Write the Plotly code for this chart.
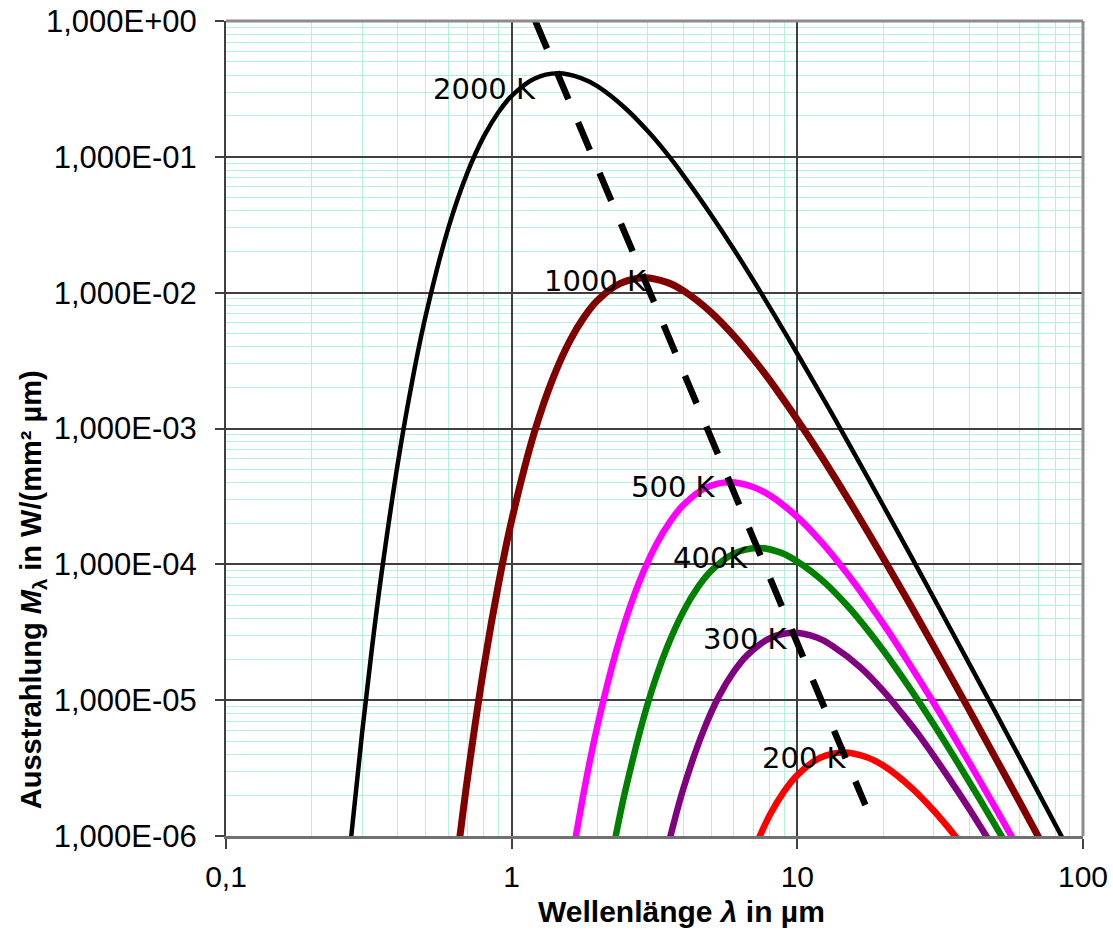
import math
import plotly.graph_objects as go

# Wellenlänge in µm, Ausstrahlung in W/(mm² µm)
lam_2000 = [0.25, 0.275, 0.30, 0.325, 0.35, 0.40, 0.45, 0.50, 0.60, 0.70, 0.80, 0.90, 1.0, 1.2, 1.45,
            1.75, 2.0, 2.5, 3.0, 3.5, 4.0, 5.0, 6.0, 7.5, 10, 12.5, 15, 20, 25, 30, 40, 50, 65, 85]
m_2000 = [1.22e-7, 1.04e-6, 5.93e-6, 2.51e-5, 8.43e-5, 5.65e-4, 2.31e-3, 6.75e-3, 0.0299, 0.0766, 0.142,
          0.214, 0.281, 0.376, 0.412, 0.380, 0.330, 0.228, 0.154, 0.105, 0.0725, 0.0372, 0.0208, 9.79e-3,
          3.55e-3, 1.58e-3, 8.01e-4, 2.70e-4, 1.15e-4, 5.68e-5, 1.85e-5, 7.74e-6, 2.76e-6, 9.55e-7]

lam_1000 = [0.65, 0.70, 0.80, 0.90, 1.0, 1.2, 1.4, 1.6, 1.8, 2.0, 2.4, 2.9, 3.5, 4.0, 5.0, 6.0, 7.0, 8.0,
            10, 12, 15, 20, 25, 30, 40, 50, 60, 80]
m_1000 = [7.86e-7, 2.64e-6, 1.77e-5, 7.23e-5, 2.11e-4, 9.33e-4, 2.39e-3, 4.44e-3, 6.69e-3, 8.79e-3, 0.0117,
          0.0129, 0.0119, 0.0103, 7.14e-3, 4.81e-3, 3.27e-3, 2.27e-3, 1.16e-3, 6.49e-4, 3.06e-4, 1.11e-4,
          4.93e-5, 2.50e-5, 8.44e-6, 3.59e-6, 1.78e-6, 5.80e-7]

lam_500 = [1.6, 1.8, 2.0, 2.4, 2.8, 3.2, 3.6, 4.0, 4.8, 5.8, 7.0, 8.0, 10, 12, 14, 16, 20, 24, 30, 40, 50, 60]
m_500 = [5.52e-7, 2.26e-6, 6.60e-6, 2.92e-5, 7.48e-5, 1.39e-4, 2.09e-4, 2.75e-4, 3.67e-4, 4.02e-4, 3.71e-4,
         3.22e-4, 2.23e-4, 1.50e-4, 1.02e-4, 7.08e-5, 3.64e-5, 2.03e-5, 9.57e-6, 3.47e-6, 1.54e-6, 7.82e-7]

lam_400 = [2.25, 2.5, 3.0, 3.5, 4.0, 4.5, 5.0, 6.0, 7.25, 8.75, 10, 12.5, 15, 17.5, 20, 25, 30, 37.5, 50, 62.5]
m_400 = [7.40e-7, 2.16e-6, 9.56e-6, 2.45e-5, 4.54e-5, 6.85e-5, 9.00e-5, 1.20e-4, 1.32e-4, 1.22e-4, 1.05e-4,
         7.31e-5, 4.93e-5, 3.35e-5, 2.32e-5, 1.19e-5, 6.65e-6, 3.13e-6, 1.14e-6, 5.04e-7]

lam_300 = [3.33, 3.67, 4.0, 4.67, 5.33, 6.0, 6.67, 8.0, 9.67, 11.7, 13.3, 16.7, 20, 23.3, 26.7, 33.3, 40, 50]
m_300 = [5.13e-7, 1.18e-6, 2.27e-6, 5.82e-6, 1.08e-5, 1.63e-5, 2.14e-5, 2.85e-5, 3.13e-5, 2.89e-5, 2.50e-5,
         1.73e-5, 1.17e-5, 7.94e-6, 5.50e-6, 2.83e-6, 1.58e-6, 7.44e-7]

lam_200 = [7.0, 8.0, 9.0, 10, 12, 14.5, 17.5, 20, 25, 30, 35, 40]
m_200 = [7.66e-7, 1.42e-6, 2.14e-6, 2.81e-6, 3.76e-6, 4.12e-6, 3.80e-6, 3.30e-6, 2.28e-6, 1.54e-6, 1.05e-6,
         7.25e-7]

# Wiensches Verschiebungsgesetz (Maxima)
lam_wien = [1.21, 1.45, 2.90, 5.80, 7.25, 9.66, 14.5, 17.3]
m_wien = [1.0, 0.412, 0.0129, 4.02e-4, 1.32e-4, 3.13e-5, 4.12e-6, 1.69e-6]

curve_names = ["2000 K", "1000 K", "500 K", "400K", "300 K", "200 K"]
label_lam = [0.806, 1.966, 3.68, 4.98, 6.60, 10.6]
label_m = [0.316, 0.0122, 3.68e-4, 1.12e-4, 2.81e-5, 3.78e-6]

x_ticks = [0.1, 1, 10, 100]
x_ticktext = ["0,1", "1", "10", "100"]
y_ticks = [1e-6, 1e-5, 1e-4, 1e-3, 1e-2, 1e-1, 1]
y_ticktext = ["1,000E-06", "1,000E-05", "1,000E-04", "1,000E-03", "1,000E-02", "1,000E-01", "1,000E+00"]

series = [
    (lam_2000, m_2000, "black", 4.5),
    (lam_1000, m_1000, "#800000", 7),
    (lam_500, m_500, "#FF00FF", 6.5),
    (lam_400, m_400, "#008000", 6.5),
    (lam_300, m_300, "#800080", 6.5),
    (lam_200, m_200, "#FF0000", 6.5),
]

fig = go.Figure()
for (lam, m, col, w), name in zip(series, curve_names):
    fig.add_trace(go.Scatter(x=lam, y=m, mode="lines", name=name,
                             line=dict(color=col, width=w, shape="spline")))

fig.add_trace(go.Scatter(x=lam_wien, y=m_wien, mode="lines", name="Wien",
                         line=dict(color="black", width=6.5, dash="30px,25px")))

# Beschriftung der Kurven
for name, lx, ly in zip(curve_names, label_lam, label_m):
    fig.add_annotation(x=math.log10(lx), y=math.log10(ly), text=name, showarrow=False,
                       font=dict(family="DejaVu Sans", size=29, color="black"))

minor_x = [k * 10 ** e for e in (-1, 0, 1) for k in range(2, 10)]
minor_y = [k * 10 ** e for e in range(-6, 0) for k in range(2, 10)]

fig.update_xaxes(type="log", range=[-1, 2], tickvals=x_ticks, ticktext=x_ticktext,
                 ticks="outside", ticklen=10, tickwidth=1.5, tickcolor="#404040",
                 showline=True, linecolor="#707070", linewidth=3,
                 showgrid=True, gridcolor="#404040", gridwidth=1.5,
                 minor=dict(tickvals=minor_x, showgrid=True, gridcolor="#B4F0DC", gridwidth=1, ticks=""),
                 tickfont=dict(family="Liberation Sans, Arial", size=30, color="black"),
                 ticklabelstandoff=2, zeroline=False, automargin=False)
fig.update_yaxes(type="log", range=[-6, 0], tickvals=y_ticks, ticktext=y_ticktext,
                 ticks="outside", ticklen=9, tickwidth=1.5, tickcolor="#404040",
                 showline=True, linecolor="#404040", linewidth=2,
                 showgrid=True, gridcolor="#404040", gridwidth=1.5,
                 minor=dict(tickvals=minor_y, showgrid=True, gridcolor="#B4F0DC", gridwidth=1, ticks=""),
                 tickfont=dict(family="Liberation Sans, Arial", size=31, color="black"),
                 ticklabelstandoff=12, zeroline=False, automargin=False)

# Rahmen oben und rechts
fig.add_shape(type="line", xref="paper", yref="paper", x0=0, x1=1, y0=1, y1=1,
              line=dict(color="#8C8C8C", width=3))
fig.add_shape(type="line", xref="paper", yref="paper", x0=1, x1=1, y0=0, y1=1,
              line=dict(color="#8C8C8C", width=3))

fig.add_annotation(xref="paper", yref="paper", x=0.531, y=-0.093, xanchor="center", yanchor="middle",
                   showarrow=False, text="<b>Wellenlänge <i>λ</i> in µm</b>",
                   font=dict(family="Liberation Sans, Arial", size=30, color="black"))
fig.add_annotation(xref="paper", yref="paper", x=-0.225, y=0.03, xanchor="center", yanchor="bottom",
                   showarrow=False, textangle=-90,
                   text="<b>Ausstrahlung <i>M</i><sub>λ</sub> in W/(mm² µm)</b>",
                   font=dict(family="Liberation Sans, Arial", size=29, color="black"))

fig.update_layout(width=1113, height=932, showlegend=False,
                  margin=dict(l=226, r=30, t=21, b=96),
                  paper_bgcolor="white", plot_bgcolor="white")

# Standardrand der Seite entfernen, damit das Diagramm bei (0,0) beginnt
fig.write_html("out.html", config={"displayModeBar": False},
               post_script="document.body.style.margin='0';")
